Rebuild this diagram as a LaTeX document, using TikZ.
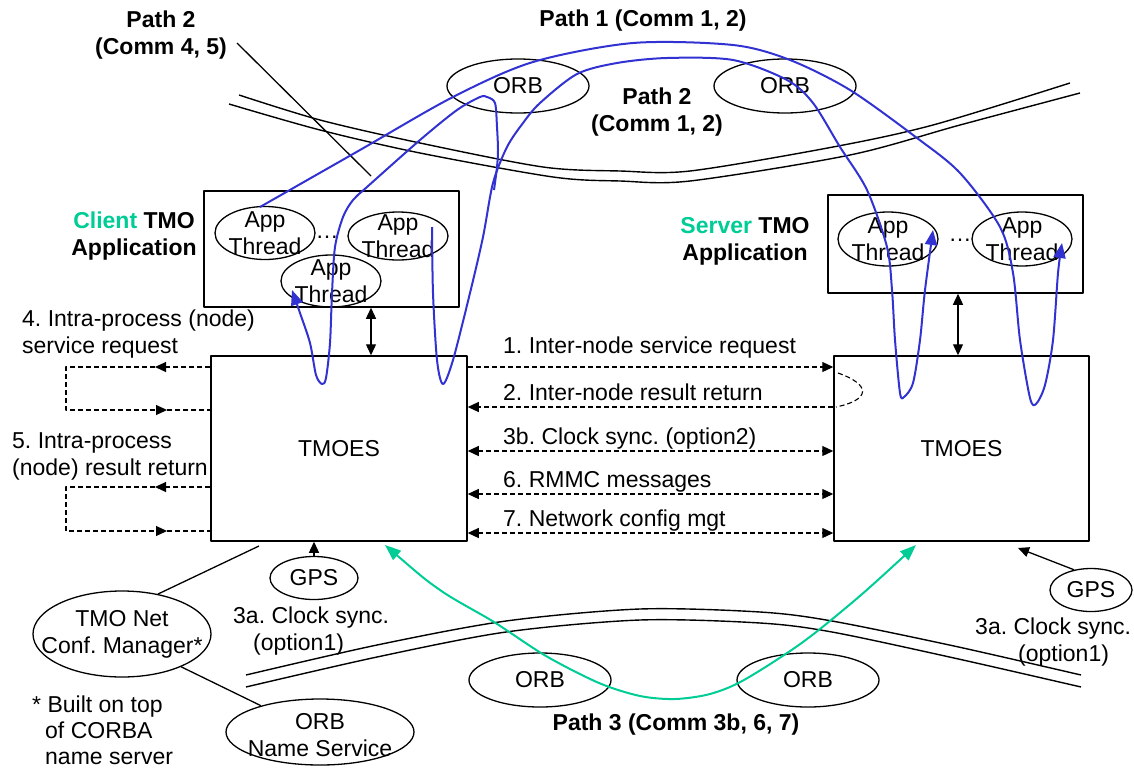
\documentclass[tikz,border=0pt]{standalone}
\usepackage{fontspec}
\setmainfont{Liberation Sans}
\usetikzlibrary{arrows.meta,shapes.geometric}
\frenchspacing

\definecolor{tmogreen}{RGB}{0,204,150}
\definecolor{pathblue}{RGB}{50,50,210}

\tikzset{
  lbl/.style={inner sep=0pt,align=center},
  blbl/.style={lbl,font=\fontsize{23}{27}\selectfont\bfseries},
  oval/.style={draw,ellipse,line width=1.3pt,inner sep=0pt},
  blk/.style={draw,line width=1.5pt,inner sep=0pt},
  msg/.style={line width=1.1pt,dash pattern=on 5pt off 3pt},
  net/.style={line width=1.4pt},
  bline/.style={pathblue,line width=2pt,-{Triangle[length=15pt,width=12pt]}},
  gline/.style={tmogreen,line width=2pt,{Triangle[length=16pt,width=12pt]}-{Triangle[length=16pt,width=12pt]}},
  >={Triangle[length=11pt,width=10pt]}
}

\begin{document}
\begin{tikzpicture}[x=1pt,y=-1pt,line join=round,
  every node/.style={font=\fontsize{23}{27}\selectfont}]
\useasboundingbox (0,0) rectangle (1134,771);

\draw[net] plot[smooth] coordinates {(239,95) (320,120) (420,143) (543,167) (620,171) (690,171) (833,147) (933,125) (1070,83)};
\draw[net] plot[smooth] coordinates {(229,104) (320,130) (420,153) (553,177) (620,181) (690,181) (850,155) (960,125) (1080,93)};
\draw[net] plot[smooth] coordinates {(246,675) (377,645) (506,621) (640,609) (760,612) (832,621) (954,646) (1081,675)};
\draw[net] plot[smooth] coordinates {(246,687) (377,657) (506,632) (640,620) (760,623) (832,632) (954,658) (1081,687)};

\node[blk,minimum width=255pt,minimum height=116pt] (capp) at (331.5,249) {};
\node[blk,minimum width=256pt,minimum height=185pt] (ctmo) at (339,448.5) {TMOES};
\node[blk,minimum width=255pt,minimum height=98pt] (sapp) at (955.5,244) {};
\node[blk,minimum width=255pt,minimum height=185pt] (stmo) at (961.5,448.5) {TMOES};

\node[oval,minimum width=100pt,minimum height=53pt,label={[lbl]center:{App\\Thread}}] (ca1) at (265,233) {};
\node[oval,minimum width=100pt,minimum height=48pt,label={[lbl]center:{App\\Thread}}] (ca2) at (398,236) {};
\node[oval,minimum width=100pt,minimum height=52pt,label={[lbl]center:{App\\Thread}}] (ca3) at (331,281) {};
\node[oval,minimum width=100pt,minimum height=54pt,label={[lbl]center:{App\\Thread}}] (sa1) at (888,239) {};
\node[oval,minimum width=100pt,minimum height=54pt,label={[lbl]center:{App\\Thread}}] (sa2) at (1022,239) {};
\node[anchor=base] (cdots) at (327,238) {…};
\node[anchor=base] (sdots) at (960,241) {…};

\node[oval,minimum width=142pt,minimum height=54pt] (orb1) at (518,86) {ORB};
\node[oval,minimum width=142pt,minimum height=54pt] (orb2) at (785,86) {ORB};
\node[oval,minimum width=142pt,minimum height=54pt] (orb3) at (540,680) {ORB};
\node[oval,minimum width=142pt,minimum height=54pt] (orb4) at (808,680) {ORB};
\node[oval,minimum width=88pt,minimum height=43pt] (gps1) at (314,578) {GPS};
\node[oval,minimum width=82pt,minimum height=43pt] (gps2) at (1091,590) {GPS};
\node[oval,minimum width=178pt,minimum height=86pt,label={[lbl]center:{TMO Net\\Conf. Manager*}}] (tnc) at (122,634) {};
\node[oval,minimum width=188pt,minimum height=66pt,label={[lbl,yshift=-3pt]center:{ORB\\Name Service}}] (ons) at (320,732) {};

\node[blbl] (p2a) at (161,35) {Path 2\\(Comm 4, 5)};
\node[blbl,anchor=base] (p1) at (643,27) {Path 1 (Comm 1, 2)};
\node[blbl] (p2b) at (657,112) {Path 2\\(Comm 1, 2)};
\node[blbl,anchor=base] (p3) at (676,730) {Path 3 (Comm 3b, 6, 7)};
\node[blbl] (cl) at (134,236) {{\color{tmogreen}Client} TMO\\Application};
\node[blbl] (sl) at (745,241) {{\color{tmogreen}Server} TMO\\Application};

\coordinate (p2end) at (371,176);
\draw[line width=1.3pt] (p2a.east) ++(10,8) -- (p2end);

\draw[<->,line width=1.3pt] (capp.south -| 371,0) -- (ctmo.north -| 371,0);
\draw[<->,line width=1.3pt] (sapp.south -| 958,0) -- (stmo.north -| 958,0);

\draw[msg,->] (ctmo.east |- 0,367) -- (stmo.west |- 0,367);
\draw[msg] (838,373) .. controls (872,385) and (870,400) .. (836,407);
\draw[msg,->] (stmo.west |- 0,407) -- (ctmo.east |- 0,407);
\draw[msg,<->] (ctmo.east |- 0,451) -- (stmo.west |- 0,451);
\draw[msg,<->] (ctmo.east |- 0,494) -- (stmo.west |- 0,494);
\draw[msg,<->] (ctmo.east |- 0,533) -- (stmo.west |- 0,533);
\node[lbl,anchor=base west] (m1) at (503,353) {1. Inter-node service request};
\node[lbl,anchor=base west] (m2) at (503,400) {2. Inter-node result return};
\node[lbl,anchor=base west] (m3) at (503,444) {3b. Clock sync. (option2)};
\node[lbl,anchor=base west] (m6) at (503,487) {6. RMMC messages};
\node[lbl,anchor=base west] (m7) at (503,526) {7. Network config mgt};

\draw[msg,->] (ctmo.west |- 0,367) -- (155,367);
\draw[msg,->] (155,367) -- (66,367) -- (66,410) -- (167,410);
\draw[msg] (167,410) -- (ctmo.west |- 0,410);
\draw[msg,->] (ctmo.west |- 0,487) -- (155,487);
\draw[msg,->] (155,487) -- (66,487) -- (66,531) -- (167,531);
\draw[msg] (167,531) -- (ctmo.west |- 0,531);
\node[lbl,align=left,anchor=west] (l4) at (22,334) {4. Intra-process (node)\\service request};
\node[lbl,align=left,anchor=west] (l5) at (12,456) {5. Intra-process\\(node) result return};

\draw[->,line width=1.3pt] (gps1.north) -- (gps1.north |- ctmo.south);
\coordinate (sgps) at (1018,548);
\draw[->,line width=1.3pt] (gps2.130) -- (sgps);
\node[lbl,align=left,anchor=west] (c3a) at (233,631) {3a. Clock sync.\\\hspace*{20pt}(option1)};
\node[lbl,align=left,anchor=west] (s3a) at (975,642) {3a. Clock sync.\\\hspace*{43pt}(option1)};

\coordinate (cmgr) at (259,546);
\draw[line width=1.3pt] (tnc.48) -- (cmgr);
\draw[line width=1.3pt] (tnc.-29) -- (ons.156);
\node[lbl,align=left,anchor=north west,font=\fontsize{23}{26}\selectfont] (note) at (32,696) {* Built on top\\\hspace*{13pt}of CORBA\\\hspace*{13pt}name server};

\draw[bline] plot[smooth] coordinates {(260,207) (360,150) (453,97) (533,62) (633,43) (733,45) (790,60) (850,90) (917,138) (960,173) (1000,227) (1013,273) (1020,340) (1030,398) (1036,404) (1045,385) (1053,340) (1058,273) (1062,243)};
\draw[bline] plot[smooth] coordinates {(432,227) (433,293) (437,360) (443,384) (453,360) (470,293) (483,237) (493,183) (507,147) (523,123) (540,103) (577,74) (617,63) (667,58) (733,60) (787,80) (813,103) (840,147) (867,190) (887,247) (892,290) (895,340) (900,393) (904,397) (913,383) (920,340) (925,290) (933,230)};
\draw[bline] plot[smooth] coordinates {(494,190) (497,167) (498,150) (497,127) (495,103) (487,97) (480,97) (457,110) (420,140) (367,187) (353,200) (343,217) (335,247) (332,293) (330,343) (326,378) (322,384) (316,375) (310,343) (300,313) (292,290)};

\draw[gline] plot[smooth] coordinates {(385,545) (440,590) (494,622) (546,656) (599,683) (640,696) (675,699) (710,694) (744,680) (803,642) (861,595) (916,545)};
\end{tikzpicture}
\end{document}
